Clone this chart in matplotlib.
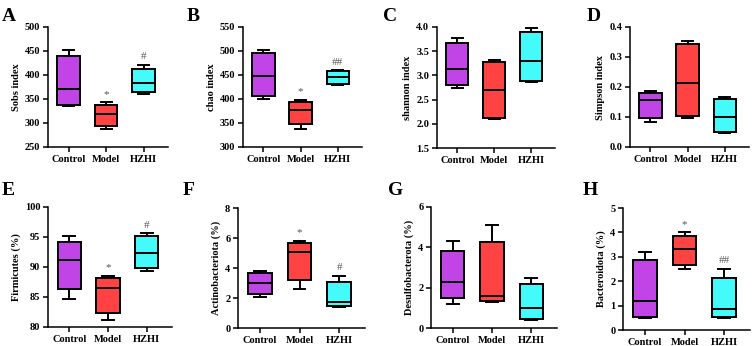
import matplotlib
matplotlib.use("Agg")
import matplotlib.pyplot as plt

plt.rcParams['font.family'] = ['Liberation Serif', 'DejaVu Serif']
plt.rcParams['font.weight'] = 'bold'

groups = ["Control", "Model", "HZHI"]
colors = ["#C044E6", "#FF4343", "#44FAFA"]

# per panel: (min, q1, median, q3, max) for Control, Model, HZHI
sobs = [(335, 338, 371, 440, 453), (287, 293, 318, 338, 343), (360, 364, 383, 413, 421)]
chao = [(401, 406, 447, 496, 503), (338, 347, 377, 393, 398), (429, 432, 445, 458, 460)]
shannon = [(2.74, 2.80, 3.14, 3.67, 3.78), (2.09, 2.13, 2.70, 3.28, 3.32), (2.87, 2.89, 3.30, 3.90, 3.98)]
simpson = [(0.082, 0.097, 0.157, 0.181, 0.186), (0.098, 0.103, 0.214, 0.345, 0.355), (0.046, 0.049, 0.099, 0.160, 0.166)]
firmicutes = [(84.6, 86.3, 91.2, 94.2, 95.2), (81.1, 82.4, 86.5, 88.1, 88.5), (89.4, 89.8, 92.4, 95.1, 95.6)]
actino = [(2.1, 2.25, 3.0, 3.65, 3.8), (2.6, 3.2, 5.1, 5.7, 5.8), (1.4, 1.45, 1.75, 3.1, 3.5)]
desulfo = [(1.2, 1.5, 2.3, 3.8, 4.3), (1.3, 1.35, 1.6, 4.25, 5.1), (0.4, 0.45, 1.0, 2.2, 2.5)]
bactero = [(0.5, 0.55, 1.2, 2.85, 3.2), (2.5, 2.65, 3.3, 3.85, 4.0), (0.5, 0.55, 0.85, 2.15, 2.5)]

panels = [
    # letter, data, ylabel, (ymin, ymax, step), marks, spine px (x0, x1, ytop, ybot), letter px
    ("A", sobs, "Sobs index", (250, 500, 50), ["", "*", "#"], (48, 168, 27, 147), (2, 21)),
    ("B", chao, "chao index", (300, 550, 50), ["", "*", "##"], (243, 362, 27, 147), (187, 21)),
    ("C", shannon, "shannon index", (1.5, 4.0, 0.5), ["", "", ""], (437, 555, 27, 148), (383, 21)),
    ("D", simpson, "Simpson index", (0.0, 0.4, 0.1), ["", "", ""], (630, 749, 27, 147), (587, 21)),
    ("E", firmicutes, "Firmicutes (%)", (80, 100, 5), ["", "*", "#"], (48, 172, 207, 327), (2, 195)),
    ("F", actino, "Actinobacteriota (%)", (0, 8, 2), ["", "*", "#"], (238, 365, 208, 328), (183, 195)),
    ("G", desulfo, "Desulfobacterota (%)", (0, 6, 2), ["", "", ""], (431, 557, 207, 328), (388, 195)),
    ("H", bactero, "Bacteroidota (%)", (0, 5, 1), ["", "*", "##"], (623, 750, 208, 330), (583, 195)),
]

W, H = 752, 346
fig = plt.figure(figsize=(W / 100, H / 100), dpi=100)

for letter, data, ylabel, (ymin, ymax, step), marks, (x0, x1, yt, yb), (lx, ly) in panels:
    ax = fig.add_axes([x0 / W, 1 - yb / H, (x1 - x0) / W, (yb - yt) / H])
    stats = []
    for g, (lo, q1, med, q3, hi) in zip(groups, data):
        stats.append(dict(label=g, whislo=lo, q1=q1, med=med, q3=q3, whishi=hi, fliers=[]))
    bp = ax.bxp(stats, positions=[1, 2, 3], widths=0.6, patch_artist=True,
                showfliers=False,
                boxprops=dict(linewidth=1.4, edgecolor="black"),
                whiskerprops=dict(linewidth=1.4),
                capprops=dict(linewidth=1.4),
                medianprops=dict(color="black", linewidth=1.4),
                capwidths=0.3)
    for patch, c in zip(bp["boxes"], colors):
        patch.set_facecolor(c)
    span = ymax - ymin
    # significance marks above the top whisker
    for i, (m, d) in enumerate(zip(marks, data)):
        if m:
            ax.text(i + 1, d[4] + span * 0.03, m, ha="center", va="bottom",
                    fontsize=8, color="#555555", fontweight="normal")
    ax.set_xlim(0.45, 3.65)
    ax.set_ylim(ymin, ymax)
    n = int(round(span / step))
    ticks = [ymin + k * step for k in range(n + 1)]
    ax.set_yticks(ticks)
    if step < 1:
        ax.set_yticklabels([f"{t:.1f}" for t in ticks])
    else:
        ax.set_yticklabels([f"{t:g}" for t in ticks])
    ax.set_xticks([1, 2, 3])
    ax.set_xticklabels(groups)
    ax.spines["top"].set_visible(False)
    ax.spines["right"].set_visible(False)
    for s in ("left", "bottom"):
        ax.spines[s].set_linewidth(1.1)
    ax.tick_params(axis="both", length=3.5, width=1.1, labelsize=7.5, pad=2)
    ax.set_ylabel(ylabel, fontsize=7.5, fontweight="bold", labelpad=3)
    fig.text(lx / W, 1 - ly / H, letter, fontsize=14, fontweight="bold", ha="left", va="baseline")

fig.savefig("out.png", dpi=100)
